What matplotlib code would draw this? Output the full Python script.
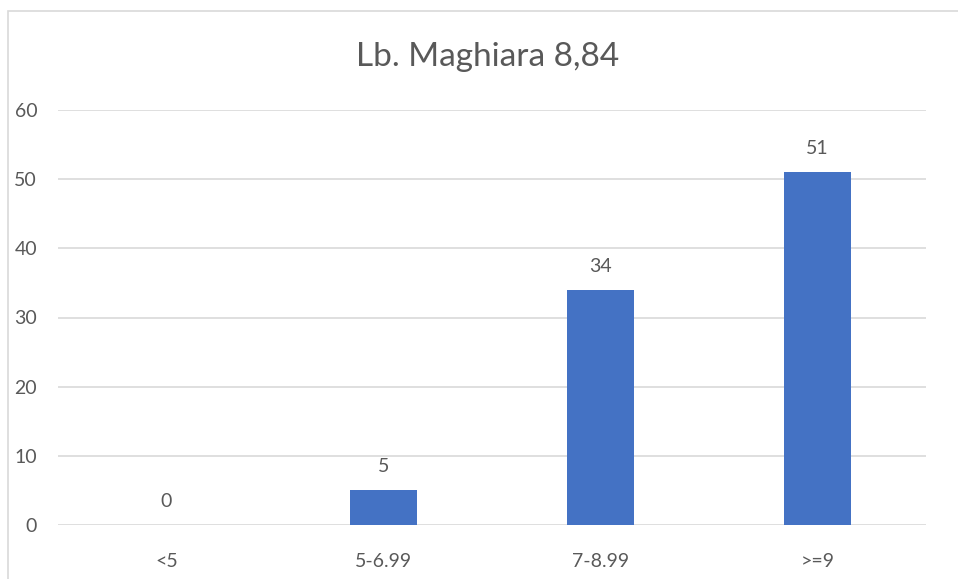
import matplotlib
matplotlib.use("Agg")
import matplotlib.pyplot as plt
from matplotlib.patches import Rectangle
import numpy as np

categories = ["<5", "5-6.99", "7-8.99", ">=9"]
counts = [0, 5, 34, 51]
title = "Lb. Maghiara 8,84"

plt.rcParams["font.family"] = ["Lato", "DejaVu Sans"]
TXT = "#595959"
BAR = "#4472C4"
GRID = "#D9D9D9"

fig = plt.figure(figsize=(9.58, 5.79), dpi=100)
ax = fig.add_axes([58 / 958, 1 - 525 / 579, 868 / 958, 415 / 579])

xs = np.arange(len(categories))
ax.bar(xs, counts, width=0.31, color=BAR, zorder=3)
for x, v in zip(xs, counts):
    ax.text(x, v + 2.2, str(v), ha="center", va="bottom", fontsize=14, color=TXT)

ax.set_xlim(-0.5, len(categories) - 0.5)
ax.set_ylim(0, 60)
ax.set_yticks(range(0, 61, 10))
ax.set_xticks(xs)
ax.set_xticklabels(categories)
ax.tick_params(axis="both", length=0, labelsize=14, labelcolor=TXT)
ax.tick_params(axis="y", pad=15)
ax.tick_params(axis="x", pad=20)
ax.grid(axis="y", color=GRID, lw=1.2, zorder=0)
for s in ax.spines.values():
    s.set_visible(False)

fig.text(488 / 958, 1 - 57 / 579, title, ha="center", va="center", fontsize=24, color=TXT)

# chart-area border (top/left visible)
fig.patches.append(Rectangle((8 / 958, -0.1), 1.2, 1 - 11 / 579 + 0.1,
                             transform=fig.transFigure, fill=False,
                             edgecolor=GRID, lw=1.2))

fig.savefig("out.png", dpi=100)
